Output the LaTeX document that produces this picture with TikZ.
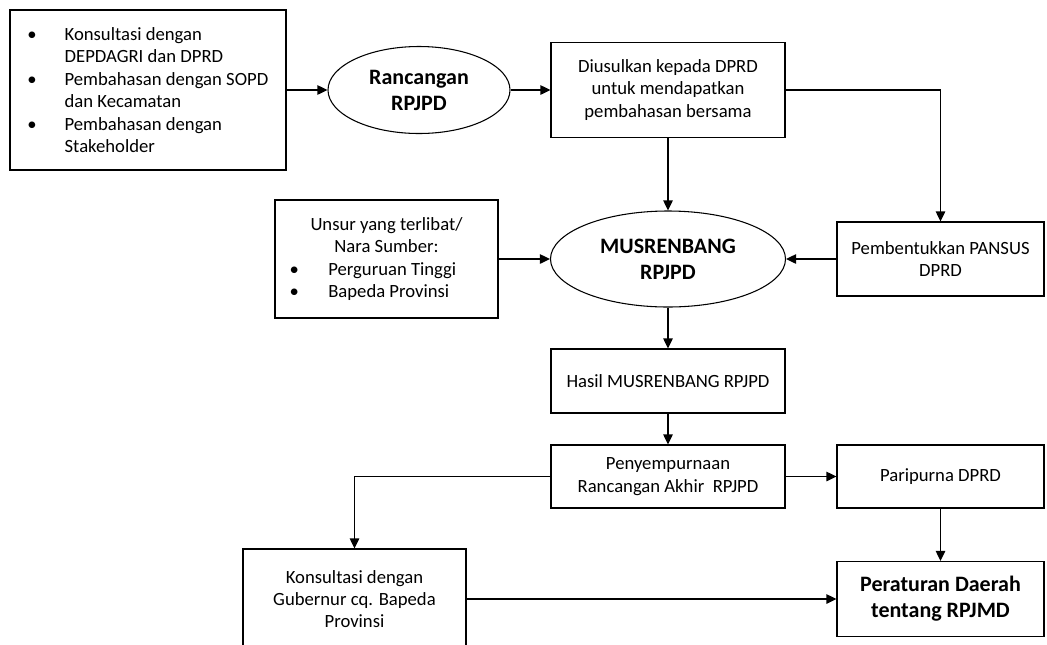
\documentclass[tikz,border=0pt]{standalone}
\usepackage{fontspec}
\setmainfont{Carlito}
\usepackage{tikz}
\usetikzlibrary{arrows.meta}
\usetikzlibrary{shapes.geometric}
\usetikzlibrary{calc,positioning}

\tikzset{
    kotak/.style={draw, line width=0.8pt, rectangle, align=center, inner sep=0pt, font=\fontsize{14}{16.8}\selectfont},
    elips/.style={draw, line width=0.8pt, ellipse, align=center, inner sep=0pt, font=\fontsize{16.5}{19.5}\selectfont\bfseries},
    panah/.style={line width=1.1pt},
}

\begin{document}
\begin{tikzpicture}[x=0.75pt, y=-0.75pt, >={Triangle[length=7.5pt,width=7pt]}]
    \useasboundingbox (0,0) rectangle (1047,644);

    % baris atas
    \node[kotak, align=flush left, text width=200pt, inner xsep=3.5pt, minimum height=120pt] (konsul) at (148,90)
        {\hspace*{9.5pt}\makebox[28pt][l]{\textbullet}Konsultasi dengan\\
         \hspace*{37.5pt}DEPDAGRI dan DPRD\\
         \hspace*{9.5pt}\makebox[28pt][l]{\textbullet}Pembahasan dengan SOPD\\
         \hspace*{37.5pt}dan Kecamatan\\
         \hspace*{9.5pt}\makebox[28pt][l]{\textbullet}Pembahasan dengan\\
         \hspace*{37.5pt}Stakeholder};
    \node[elips, minimum width=136.5pt, minimum height=65.25pt] (ranc) at (419,90) {Rancangan\\RPJPD};
    \node[kotak, minimum width=175.5pt, minimum height=71.25pt] (usul) at (668,90)
        {Diusulkan kepada DPRD\\untuk mendapatkan\\pembahasan bersama};

    % baris tengah
    \node[kotak, align=flush left, text width=167.25pt, minimum height=88.5pt] (unsur) at (386.5,259)
        {\makebox[167.25pt]{Unsur yang terlibat/}\\
         \makebox[167.25pt]{Nara Sumber:}\\
         \hspace*{11pt}\makebox[29pt][l]{\textbullet}Perguruan Tinggi\\
         \hspace*{11pt}\makebox[29pt][l]{\textbullet}Bapeda Provinsi};
    \node[elips, minimum width=176.25pt, minimum height=72pt] (musr) at (668,259) {MUSRENBANG\\RPJPD};
    \node[kotak, minimum width=155.25pt, minimum height=55.5pt] (pans) at (940.5,259)
        {Pembentukkan PANSUS\\DPRD};

    % baris bawah
    \node[kotak, minimum width=175.5pt, minimum height=48pt] (hasil) at (668,381) {Hasil MUSRENBANG RPJPD};
    \node[kotak, minimum width=175.5pt, minimum height=47.25pt] (sempurna) at (668,476.5)
        {Penyempurnaan\\Rancangan Akhir~~RPJPD};
    \node[kotak, minimum width=155.25pt, minimum height=47.25pt] (paripurna) at (940.5,476.5) {Paripurna DPRD};
    \node[kotak, minimum width=167.25pt, minimum height=75pt] (gubernur) at (354.5,599)
        {Konsultasi dengan\\Gubernur cq. Bapeda\\Provinsi};
    \node[kotak, font=\fontsize{16.5}{19.5}\selectfont\bfseries, minimum width=155.25pt, minimum height=56.25pt] (perda) at (940.5,599)
        {Peraturan Daerah\\tentang RPJMD};

    % panah
    \draw[->, panah] (konsul) -- (ranc);
    \draw[->, panah] (ranc) -- (usul);
    \draw[->, panah] (usul.east) -| (pans.north);
    \draw[->, panah] (usul) -- (musr);
    \draw[->, panah] (unsur) -- (musr);
    \draw[->, panah] (pans) -- (musr);
    \draw[->, panah] (musr) -- (hasil);
    \draw[->, panah] (hasil) -- (sempurna);
    \draw[->, panah] (sempurna) -- (paripurna);
    \draw[->, panah] (sempurna.west) -| (gubernur.north);
    \draw[->, panah] (paripurna) -- (perda);
    \draw[->, panah] (gubernur) -- (perda);
\end{tikzpicture}
\end{document}
